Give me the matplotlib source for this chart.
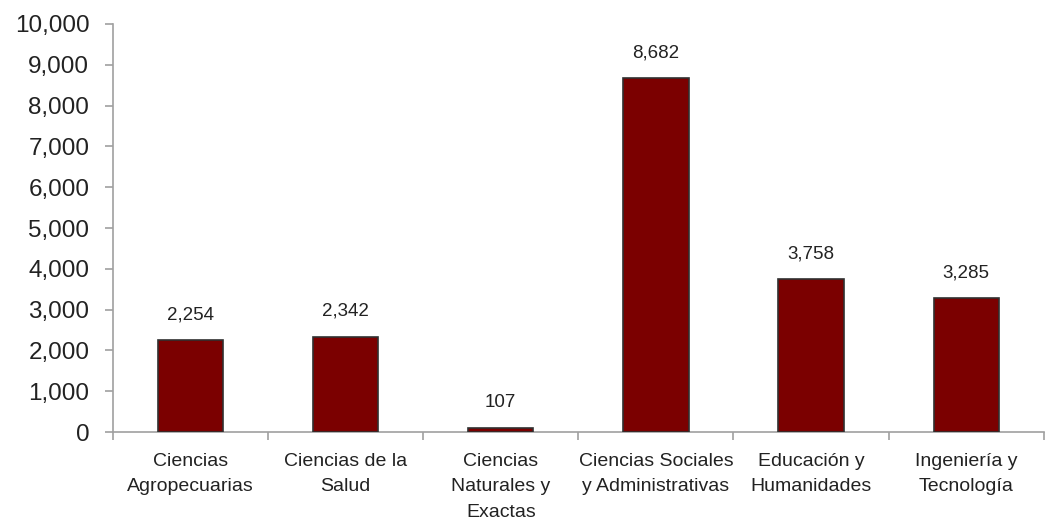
import numpy as np
import matplotlib.pyplot as plt
from matplotlib.ticker import FuncFormatter

# Datos
categorias = ['Ciencias\nAgropecuarias', 'Ciencias de la\nSalud',
              'Ciencias\nNaturales y\nExactas', 'Ciencias Sociales\ny Administrativas',
              'Educación y\nHumanidades', 'Ingeniería y\nTecnología']
valores = [2254, 2342, 107, 8682, 3758, 3285]

plt.rcParams['font.family'] = ['Liberation Sans', 'DejaVu Sans']

fig = plt.figure(figsize=(10.49, 5.2), dpi=100)
ax = fig.add_axes([0.1077, 0.169, 0.8873, 0.785])

x = np.arange(len(categorias))
ax.bar(x, valores, width=0.42, color='#7b0000', edgecolor='#303030', linewidth=1.2, zorder=3)

for xi, v in zip(x, valores):
    ax.annotate(f'{v:,}', (xi, v), xytext=(0, 12), textcoords='offset points',
                ha='center', va='bottom', fontsize=13.5, color='#222222')

ax.set_xlim(-0.5, len(categorias) - 0.5)
ax.set_ylim(0, 10000)
ax.set_yticks(np.arange(0, 10001, 1000))
ax.yaxis.set_major_formatter(FuncFormatter(lambda v, p: f'{int(v):,}'))

ax.set_xticks(x)
ax.set_xticklabels(categorias, fontsize=14, color='#222222', linespacing=1.65)
ax.set_xticks(np.arange(-0.5, len(categorias)), minor=True)
ax.tick_params(axis='x', which='major', length=0, pad=15)
ax.tick_params(axis='x', which='minor', length=6, color='#a0a0a0', width=1.2)
ax.tick_params(axis='y', length=6, color='#a0a0a0', width=1.2, labelsize=17.5,
               labelcolor='#222222', pad=11)

for s in ['top', 'right']:
    ax.spines[s].set_visible(False)
for s in ['left', 'bottom']:
    ax.spines[s].set_color('#a0a0a0')
    ax.spines[s].set_linewidth(1.2)

fig.savefig('out.png', dpi=100)
